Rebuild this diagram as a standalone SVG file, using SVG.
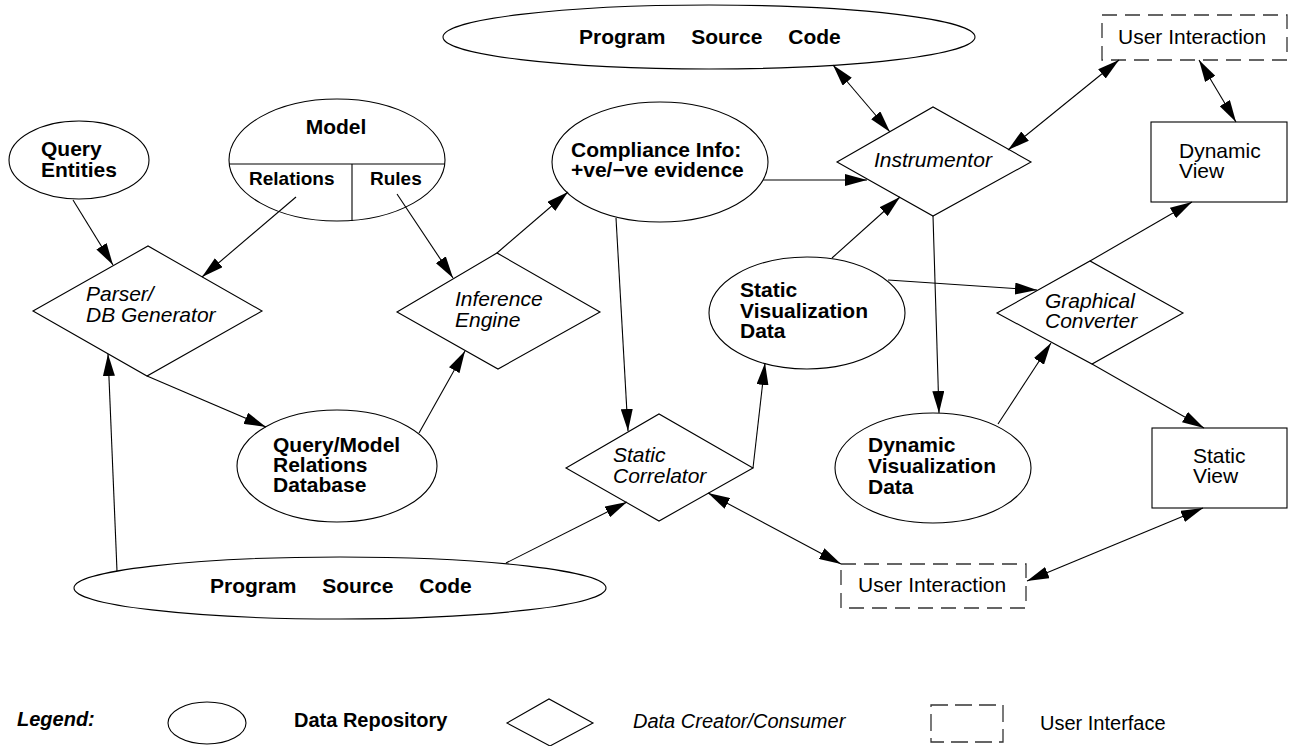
<svg xmlns="http://www.w3.org/2000/svg" width="1289" height="746" viewBox="0 0 1289 746">
  <style>
    .shape { fill: #fff; stroke: #000; stroke-width: 1.1; }
    .ui { fill: #fff; stroke: #333; stroke-width: 1.3; stroke-dasharray: 15 8; }
    .edge { fill: none; stroke: #000; stroke-width: 1.1; marker-end: url(#head); }
    .both { marker-start: url(#head); }
    text { font-family: "Liberation Sans", Arial, Helvetica, sans-serif; font-size: 21px; fill: #000; }
    .b { font-weight: bold; }
    .i { font-style: italic; }
    .psc { word-spacing: 20px; }
  </style>
  <defs>
    <marker id="head" viewBox="0 0 22 12" refX="22" refY="6" markerWidth="22" markerHeight="12" markerUnits="userSpaceOnUse" orient="auto-start-reverse">
      <path d="M0,0 L22,6 L0,12 z" fill="#000"/>
    </marker>
  </defs>
  <rect width="1289" height="746" fill="#fff"/>

  <!-- data repositories -->
  <g id="psc-top">
    <ellipse class="shape" cx="709" cy="37" rx="266" ry="32"/>
    <text class="b psc" x="579" y="44">Program Source Code</text>
  </g>
  <g id="query-entities">
    <ellipse class="shape" cx="79" cy="160" rx="70" ry="39"/>
    <text class="b" x="41" y="156">Query</text>
    <text class="b" x="41" y="177">Entities</text>
  </g>
  <g id="model">
    <ellipse class="shape" cx="337" cy="160" rx="108" ry="61"/>
    <line x1="229" y1="164" x2="445" y2="164" stroke="#000" stroke-width="1.1"/>
    <line x1="352" y1="164" x2="352" y2="221" stroke="#000" stroke-width="1.1"/>
    <text class="b" x="336" y="134" text-anchor="middle">Model</text>
    <text class="b" x="249" y="185" style="font-size:19px">Relations</text>
    <text class="b" x="370" y="185" style="font-size:19px">Rules</text>
  </g>
  <g id="compliance">
    <ellipse class="shape" cx="660" cy="162" rx="108" ry="60"/>
    <text class="b" x="571" y="157">Compliance Info:</text>
    <text class="b" x="571" y="177">+ve/−ve evidence</text>
  </g>
  <g id="static-vis-data">
    <ellipse class="shape" cx="807" cy="313" rx="98" ry="56"/>
    <text class="b" x="740" y="297">Static</text>
    <text class="b" x="740" y="318">Visualization</text>
    <text class="b" x="740" y="338">Data</text>
  </g>
  <g id="dynamic-vis-data">
    <ellipse class="shape" cx="933" cy="468" rx="98" ry="55"/>
    <text class="b" x="868" y="452">Dynamic</text>
    <text class="b" x="868" y="473">Visualization</text>
    <text class="b" x="868" y="494">Data</text>
  </g>
  <g id="relations-db">
    <ellipse class="shape" cx="337" cy="466" rx="100" ry="56"/>
    <text class="b" x="273" y="452">Query/Model</text>
    <text class="b" x="273" y="472">Relations</text>
    <text class="b" x="273" y="492">Database</text>
  </g>
  <g id="psc-bottom">
    <ellipse class="shape" cx="340" cy="588" rx="266" ry="31"/>
    <text class="b psc" x="210" y="593">Program Source Code</text>
  </g>

  <!-- creators / consumers -->
  <g id="parser">
    <polygon class="shape" points="33,311 148,246 262,311 147,376"/>
    <text class="i" x="86" y="301">Parser/</text>
    <text class="i" x="86" y="322">DB Generator</text>
  </g>
  <g id="inference">
    <polygon class="shape" points="397,312 497,253 600,312 498,369"/>
    <text class="i" x="455" y="306">Inference</text>
    <text class="i" x="455" y="327">Engine</text>
  </g>
  <g id="instrumentor">
    <polygon class="shape" points="837,162 933,107 1031,162 933,216"/>
    <text class="i" x="874" y="167">Instrumentor</text>
  </g>
  <g id="static-correlator">
    <polygon class="shape" points="566,468 659,414 753,468 659,521"/>
    <text class="i" x="613" y="462">Static</text>
    <text class="i" x="613" y="483">Correlator</text>
  </g>
  <g id="graphical-converter">
    <polygon class="shape" points="997,313 1090,261 1183,313 1092,364"/>
    <text class="i" x="1045" y="308">Graphical</text>
    <text class="i" x="1045" y="328">Converter</text>
  </g>

  <!-- views and user interaction -->
  <g id="ui-top">
    <rect class="ui" x="1102" y="15" width="185" height="45"/>
    <text x="1118" y="44">User Interaction</text>
  </g>
  <g id="dynamic-view">
    <rect class="shape" x="1151" y="122" width="136" height="80"/>
    <text x="1179" y="158">Dynamic</text>
    <text x="1179" y="178">View</text>
  </g>
  <g id="static-view">
    <rect class="shape" x="1152" y="428" width="135" height="80"/>
    <text x="1193" y="463">Static</text>
    <text x="1193" y="483">View</text>
  </g>
  <g id="ui-bottom">
    <rect class="ui" x="841" y="564" width="185" height="44"/>
    <text x="858" y="592">User Interaction</text>
  </g>

  <!-- connectors -->
  <g id="connectors">
    <line class="edge" x1="73" y1="200" x2="113" y2="265"/>
    <line class="edge" x1="296" y1="197" x2="202" y2="277"/>
    <line class="edge" x1="397" y1="194" x2="453" y2="278"/>
    <line class="edge" x1="147" y1="376" x2="266" y2="427"/>
    <line class="edge" x1="419" y1="433" x2="465" y2="351"/>
    <line class="edge" x1="497" y1="253" x2="568" y2="192"/>
    <line class="edge" x1="763" y1="180" x2="867" y2="180"/>
    <line class="edge" x1="616" y1="218" x2="628" y2="431"/>
    <line class="edge both" x1="833" y1="65" x2="890" y2="132"/>
    <line class="edge both" x1="1008" y1="150" x2="1119" y2="60"/>
    <line class="edge both" x1="1199" y1="60" x2="1236" y2="122"/>
    <line class="edge" x1="832" y1="258" x2="900" y2="197"/>
    <line class="edge" x1="933" y1="216" x2="939" y2="413"/>
    <line class="edge" x1="888" y1="280" x2="1037" y2="290"/>
    <line class="edge" x1="1090" y1="261" x2="1192" y2="202"/>
    <line class="edge" x1="998" y1="424" x2="1051" y2="343"/>
    <line class="edge" x1="1092" y1="364" x2="1204" y2="428"/>
    <line class="edge both" x1="1203" y1="508" x2="1027" y2="581"/>
    <line class="edge both" x1="708" y1="493" x2="841" y2="564"/>
    <line class="edge" x1="506" y1="563" x2="627" y2="502"/>
    <line class="edge" x1="753" y1="468" x2="765" y2="363"/>
    <line class="edge" x1="117" y1="571" x2="108" y2="354"/>
  </g>

  <!-- legend -->
  <g id="legend">
    <text class="b i" x="17" y="726" style="font-size:20px">Legend:</text>
    <ellipse class="shape" cx="207" cy="723" rx="39" ry="21"/>
    <text class="b" x="294" y="727" style="font-size:20px">Data Repository</text>
    <polygon class="shape" points="507,723 549,699 593,723 550,746"/>
    <text class="i" x="633" y="728" style="font-size:20px">Data Creator/Consumer</text>
    <rect class="ui" x="931" y="705" width="72" height="37" style="stroke-dasharray:17 7"/>
    <text x="1040" y="730" style="font-size:20px">User Interface</text>
  </g>
</svg>
